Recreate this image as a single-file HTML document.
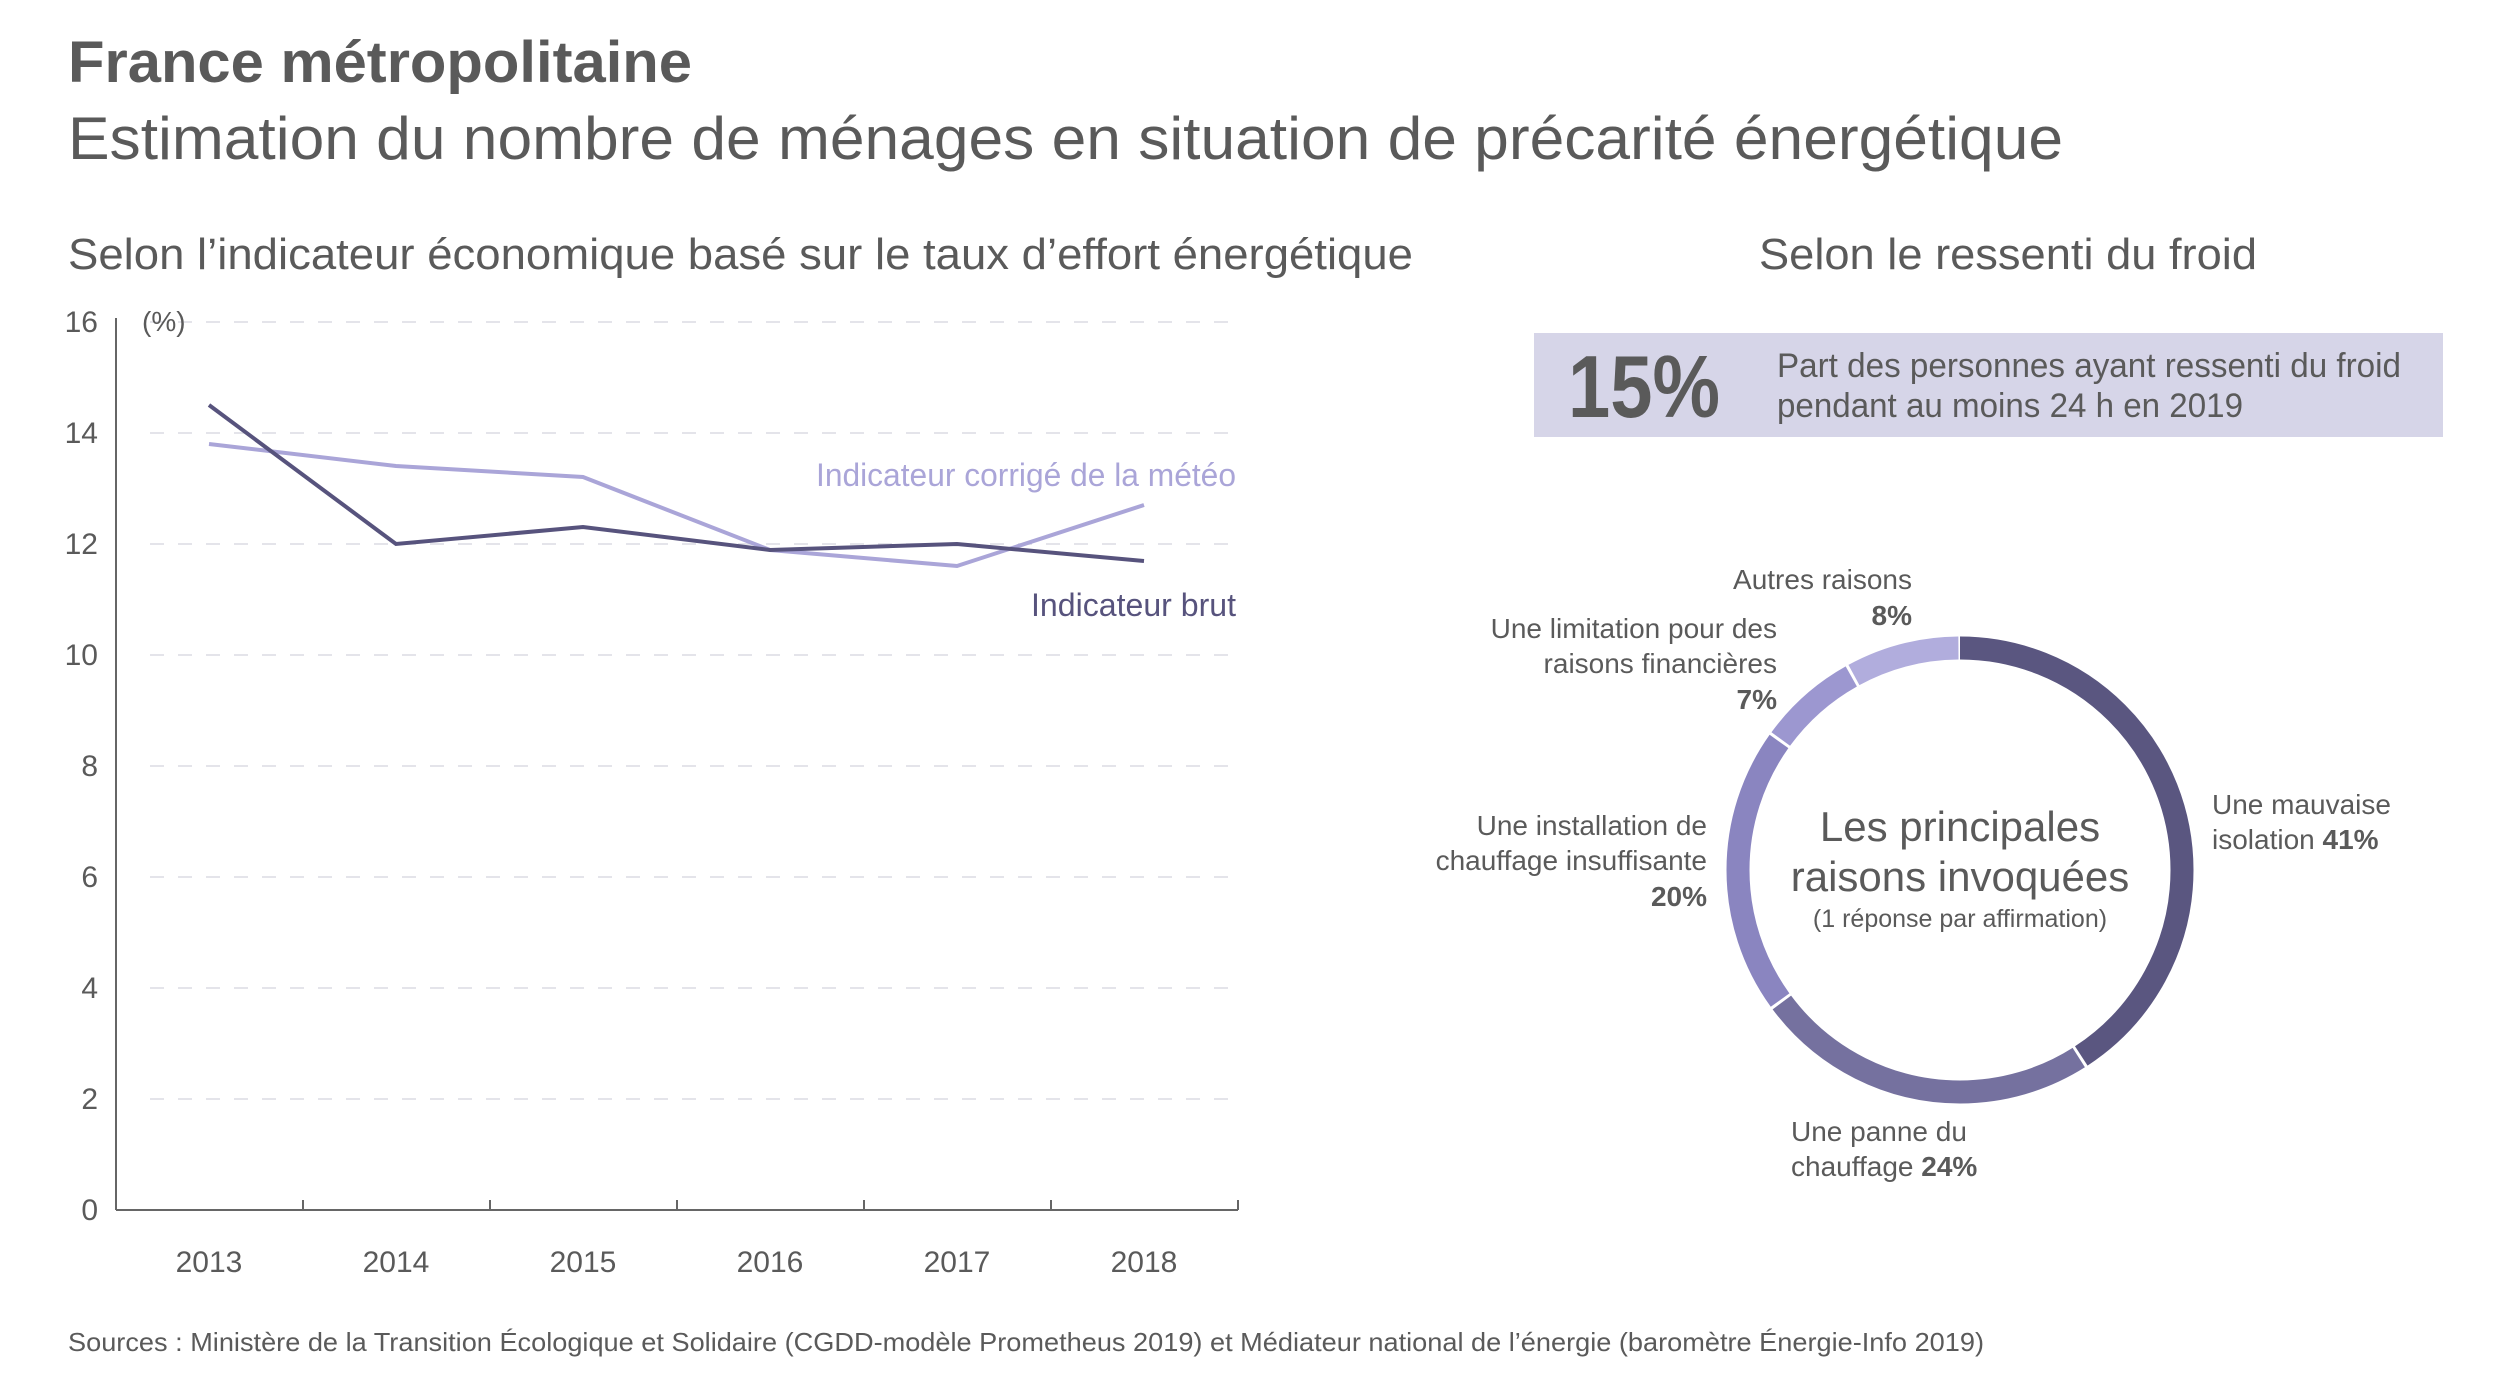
<!DOCTYPE html>
<html><head><meta charset="utf-8"><style>
html,body{margin:0;padding:0;background:#fff;}
svg{display:block;font-family:"Liberation Sans",sans-serif;}
</style></head><body>
<svg width="2500" height="1373" viewBox="0 0 2500 1373" xmlns="http://www.w3.org/2000/svg">
<g fill="#5a5a5a">
<text x="68" y="82" font-size="58" font-weight="bold" textLength="624" lengthAdjust="spacingAndGlyphs">France métropolitaine</text>
<text x="68" y="159" font-size="60" textLength="1995" lengthAdjust="spacingAndGlyphs">Estimation du nombre de ménages en situation de précarité énergétique</text>
<text x="68" y="269" font-size="44" textLength="1345" lengthAdjust="spacingAndGlyphs">Selon l’indicateur économique basé sur le taux d’effort énergétique</text>
<text x="1759" y="269" font-size="44" textLength="498" lengthAdjust="spacingAndGlyphs">Selon le ressenti du froid</text>
<text x="68" y="1351" font-size="26" textLength="1916" lengthAdjust="spacingAndGlyphs">Sources : Ministère de la Transition Écologique et Solidaire (CGDD-modèle Prometheus 2019) et Médiateur national de l’énergie (baromètre Énergie-Info 2019)</text>
</g>
<!-- grid -->
<g stroke="#dcdce4" stroke-width="1.5" stroke-dasharray="14 14">
<line x1="150" y1="322" x2="1238" y2="322"/>
<line x1="150" y1="433" x2="1238" y2="433"/>
<line x1="150" y1="544" x2="1238" y2="544"/>
<line x1="150" y1="655" x2="1238" y2="655"/>
<line x1="150" y1="766" x2="1238" y2="766"/>
<line x1="150" y1="877" x2="1238" y2="877"/>
<line x1="150" y1="988" x2="1238" y2="988"/>
<line x1="150" y1="1099" x2="1238" y2="1099"/>
</g>
<g stroke="#666" stroke-width="2" fill="none">
<line x1="116" y1="318" x2="116" y2="1210"/>
<line x1="116" y1="1210" x2="1238" y2="1210"/>
<line x1="303" y1="1210" x2="303" y2="1200"/>
<line x1="490" y1="1210" x2="490" y2="1200"/>
<line x1="677" y1="1210" x2="677" y2="1200"/>
<line x1="864" y1="1210" x2="864" y2="1200"/>
<line x1="1051" y1="1210" x2="1051" y2="1200"/>
<line x1="1238" y1="1210" x2="1238" y2="1200"/>
</g>
<g fill="#5a5a5a" font-size="30" text-anchor="end">
<text x="98" y="332">16</text><text x="98" y="443">14</text><text x="98" y="554">12</text>
<text x="98" y="665">10</text><text x="98" y="776">8</text><text x="98" y="887">6</text>
<text x="98" y="998">4</text><text x="98" y="1109">2</text><text x="98" y="1220">0</text>
</g>
<text x="142" y="331" font-size="28" fill="#5a5a5a">(%)</text>
<g fill="#5a5a5a" font-size="30" text-anchor="middle">
<text x="209" y="1272">2013</text><text x="396" y="1272">2014</text><text x="583" y="1272">2015</text>
<text x="770" y="1272">2016</text><text x="957" y="1272">2017</text><text x="1144" y="1272">2018</text>
</g>
<polyline fill="none" stroke="#aaa5d8" stroke-width="4" points="209,444 396,466 583,477 770,550 957,566 1144,505"/>
<polyline fill="none" stroke="#57537d" stroke-width="4" points="209,405 396,544 583,527 770,550 957,544 1144,561"/>
<text x="1236" y="486" font-size="32" fill="#aaa5d8" text-anchor="end" textLength="420" lengthAdjust="spacingAndGlyphs">Indicateur corrigé de la météo</text>
<text x="1236" y="616" font-size="32" fill="#57537d" text-anchor="end" textLength="205" lengthAdjust="spacingAndGlyphs">Indicateur brut</text>
<!-- box -->
<rect x="1534" y="333" width="909" height="104" fill="#d6d5e8"/>
<text x="1568" y="417" font-size="88" font-weight="bold" fill="#5a5a5a" textLength="152" lengthAdjust="spacingAndGlyphs">15%</text>
<text x="1777" y="377" font-size="34" fill="#5a5a5a" textLength="624" lengthAdjust="spacingAndGlyphs">Part des personnes ayant ressenti du froid</text>
<text x="1777" y="417" font-size="34" fill="#5a5a5a" textLength="466" lengthAdjust="spacingAndGlyphs">pendant au moins 24 h en 2019</text>
<!-- donut -->
<g fill="none" stroke-width="23" transform="rotate(-90 1960 870)">
<circle cx="1960" cy="870" r="222" stroke="#5a5680" stroke-dasharray="569 2000" stroke-dashoffset="0"/>
<circle cx="1960" cy="870" r="222" stroke="#75719f" stroke-dasharray="332 2000" stroke-dashoffset="-572"/>
<circle cx="1960" cy="870" r="222" stroke="#8a85c0" stroke-dasharray="276 2000" stroke-dashoffset="-907"/>
<circle cx="1960" cy="870" r="222" stroke="#9c97d0" stroke-dasharray="95 2000" stroke-dashoffset="-1186"/>
<circle cx="1960" cy="870" r="222" stroke="#b1addd" stroke-dasharray="109 2000" stroke-dashoffset="-1284"/>
</g>
<g fill="#5a5a5a" text-anchor="middle">
<text x="1960" y="841" font-size="42">Les principales</text>
<text x="1960" y="891" font-size="42">raisons invoquées</text>
<text x="1960" y="927" font-size="25">(1 réponse par affirmation)</text>
</g>
<g fill="#5a5a5a" font-size="28">
<g text-anchor="end">
<text x="1912" y="589">Autres raisons</text><text x="1912" y="625" font-weight="bold">8%</text>
<text x="1777" y="638">Une limitation pour des</text><text x="1777" y="673">raisons financières</text><text x="1777" y="709" font-weight="bold">7%</text>
<text x="1707" y="835">Une installation de</text><text x="1707" y="870">chauffage insuffisante</text><text x="1707" y="906" font-weight="bold">20%</text>
</g>
<text x="2212" y="814">Une mauvaise</text>
<text x="2212" y="849">isolation <tspan font-weight="bold">41%</tspan></text>
<text x="1791" y="1141">Une panne du</text>
<text x="1791" y="1176">chauffage <tspan font-weight="bold">24%</tspan></text>
</g>
</svg>
</body></html>
